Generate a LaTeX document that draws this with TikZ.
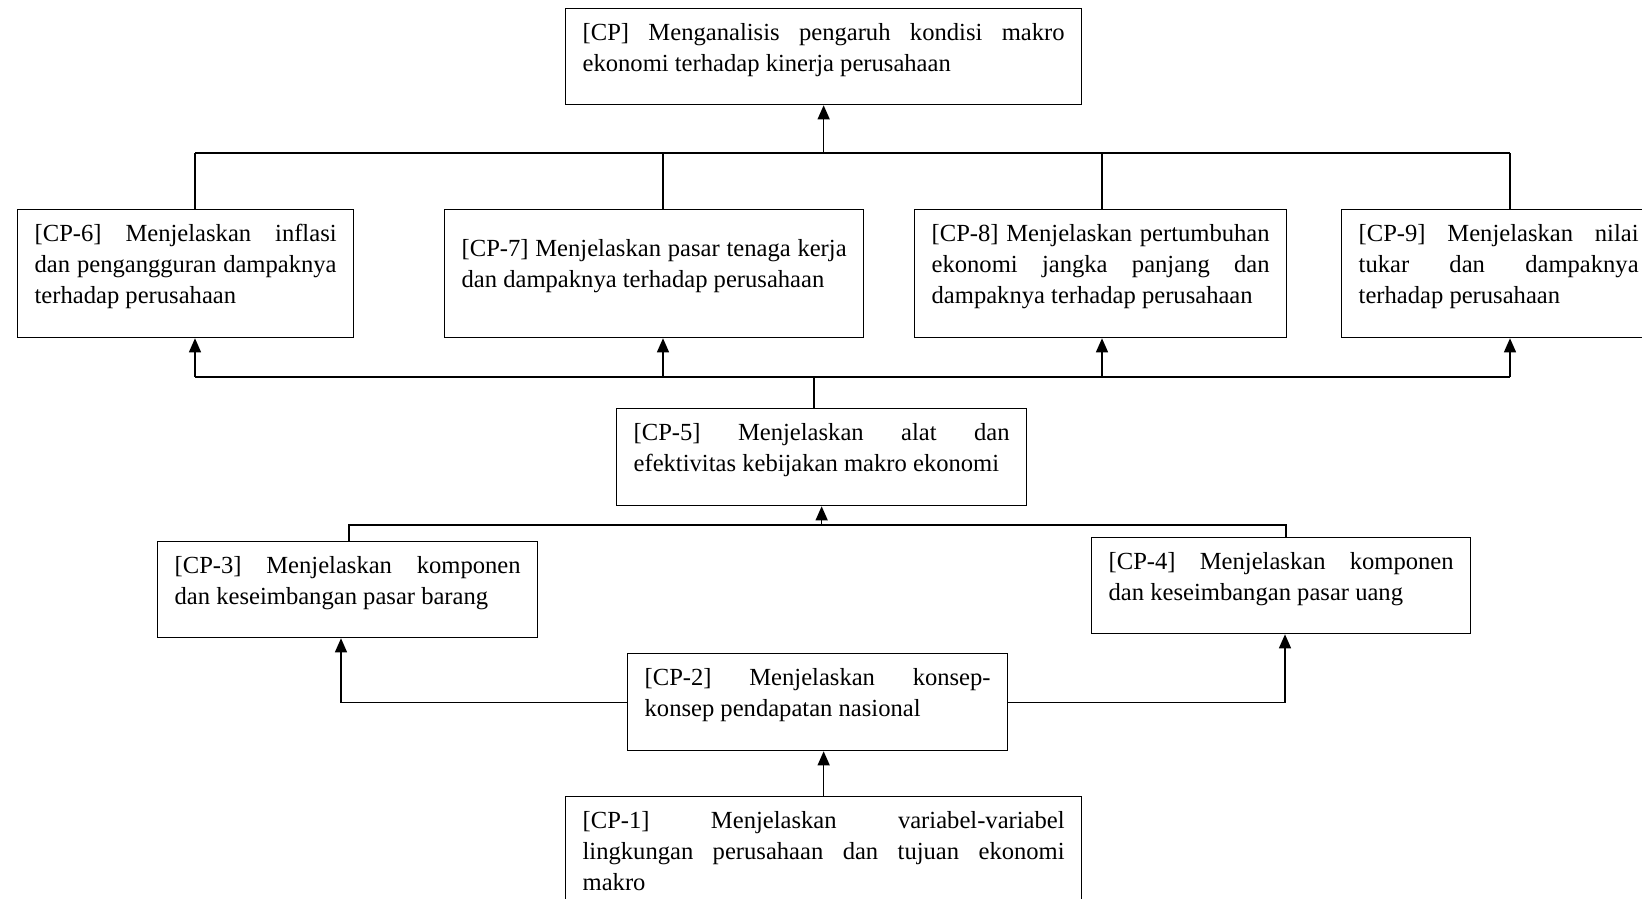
\documentclass[tikz,border=0pt]{standalone}
\usepackage{fontspec}
\setmainfont{Liberation Serif}
\usetikzlibrary{arrows.meta}
\hyphenpenalty=10000 \exhyphenpenalty=10000 \tolerance=10000
% box text: width, height, text (top aligned, justified)
\newcommand{\cptxt}[3]{\parbox[c][\dimexpr#2pt-29pt\relax][t]{\dimexpr#1pt-34pt\relax}{#3}}
\begin{document}
\begin{tikzpicture}[x=1pt, y=-1pt,
    cpbox/.style={draw, line width=1.3pt, anchor=north west, inner xsep=17pt, inner ysep=14.5pt,
      font=\fontsize{24.6}{31}\selectfont},
    link/.style={line width=1.3pt},
    up/.style={link, -{Triangle[width=12pt, length=14pt]}}]
  \useasboundingbox (0,0) rectangle (1642,898);
  \clip (0,0) rectangle (1642,898);
  \node[cpbox] (cp) at (565,8) {\cptxt{516}{96}{[CP] Menganalisis pengaruh kondisi makro\linebreak
    ekonomi terhadap kinerja perusahaan}};
  \node[cpbox] (cp6) at (17,209) {\cptxt{336}{128}{[CP-6] Menjelaskan inflasi\linebreak
    dan pengangguran dampaknya\linebreak terhadap perusahaan}};
  \node[cpbox] (cp7) at (444,209) {\cptxt{419}{128}{\vspace*{15pt}[CP-7] Menjelaskan pasar tenaga kerja\linebreak
    dan dampaknya terhadap perusahaan}};
  \node[cpbox] (cp8) at (914,209) {\cptxt{372}{128}{[CP-8] Menjelaskan pertumbuhan\linebreak
    ekonomi jangka panjang dan\linebreak dampaknya terhadap perusahaan}};
  \node[cpbox] (cp9) at (1341,209) {\cptxt{314}{128}{[CP-9] Menjelaskan nilai\linebreak
    tukar dan dampaknya\linebreak terhadap perusahaan}};
  \node[cpbox] (cp5) at (616,408) {\cptxt{410}{97}{[CP-5] Menjelaskan alat dan\linebreak
    efektivitas kebijakan makro ekonomi}};
  \node[cpbox] (cp3) at (157,541) {\cptxt{380}{96}{[CP-3] Menjelaskan komponen\linebreak
    dan keseimbangan pasar barang}};
  \node[cpbox] (cp4) at (1091,537) {\cptxt{379}{96}{[CP-4] Menjelaskan komponen\linebreak
    dan keseimbangan pasar uang}};
  \node[cpbox] (cp2) at (627,653) {\cptxt{380}{97}{[CP-2] Menjelaskan konsep-\linebreak
    konsep pendapatan nasional}};
  \node[cpbox] (cp1) at (565,796) {\cptxt{516}{128}{[CP-1] Menjelaskan variabel-variabel\linebreak
    lingkungan perusahaan dan tujuan ekonomi\linebreak makro}};
  % buses
  \coordinate (tbus) at (0,153);
  \coordinate (mbus) at (0,377);
  \coordinate (lbus) at (0,525);
  \draw[link] (tbus -| 195,0) -- (tbus -| 1510,0);
  \draw[up] (tbus -| cp.south) -- (cp.south);
  \draw[link] (mbus -| 195,0) -- (mbus -| 1510,0);
  \foreach \n/\x in {cp6/195, cp7/663, cp8/1102, cp9/1510} {
    \draw[link] (\n.north -| \x,0) -- (tbus -| \x,0);
    \draw[up] (mbus -| \x,0) -- (\n.south -| \x,0);
  }
  \draw[link] (cp5.north -| 814,0) -- (mbus -| 814,0);
  \draw[link] (cp3.north -| 349,0) -- (lbus -| 349,0) -- (lbus -| 1286,0) -- (cp4.north -| 1286,0);
  \draw[up] (lbus -| cp5.south) -- (cp5.south);
  \draw[up] (cp2.west) -| (cp3.south -| 341,0);
  \draw[up] (cp2.east) -| (cp4.south -| 1285,0);
  \draw[up] (cp1.north) -- (cp2.south -| cp1.north);
\end{tikzpicture}
\end{document}
